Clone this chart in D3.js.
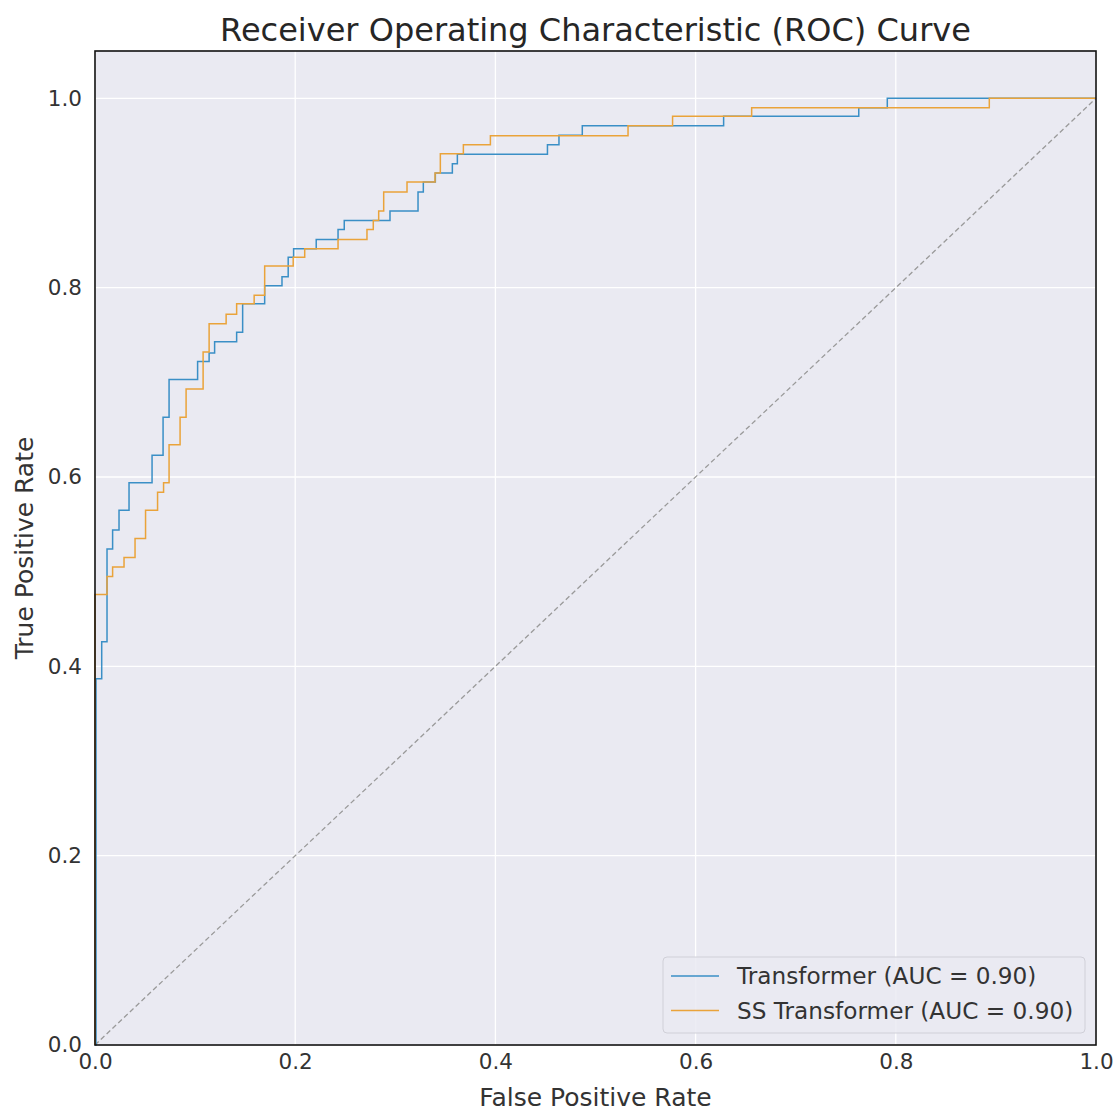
<!DOCTYPE html>
<html lang="en">
<head>
  <meta charset="UTF-8">
  <title>ROC Curve</title>
  <script src="https://d3js.org/d3.v7.min.js"></script>
  <style>
    body { margin: 0; background: #fff; }
    text { font-family: "DejaVu Sans", sans-serif; }
  </style>
</head>
<body>
  <svg id="chart" width="1118" height="1112"></svg>
  <script>
    // ROC points (corners of each step)
    const transformerFpr = [0, 0.001, 0.0067, 0.012, 0.0176, 0.024, 0.034, 0.057, 0.068, 0.074,
      0.1025, 0.114, 0.1195, 0.1415, 0.1475, 0.1695, 0.1868, 0.193, 0.1984, 0.221,
      0.2428, 0.249, 0.2947, 0.3227, 0.328, 0.340, 0.357, 0.362, 0.452, 0.4635,
      0.4868, 0.628, 0.763, 0.7915, 1];
    const transformerTpr = [0, 0.387, 0.426, 0.524, 0.544, 0.565, 0.594, 0.623, 0.663, 0.703,
      0.722, 0.731, 0.743, 0.753, 0.783, 0.802, 0.8115, 0.832, 0.841, 0.851,
      0.8615, 0.871, 0.881, 0.901, 0.9115, 0.921, 0.931, 0.941, 0.951, 0.961,
      0.971, 0.981, 0.990, 1.0, 1.0];

    const ssFpr = [0, 0, 0.012, 0.0176, 0.029, 0.040, 0.0505, 0.0625, 0.0685, 0.074,
      0.085, 0.091, 0.108, 0.114, 0.131, 0.1415, 0.159, 0.1695, 0.198, 0.2095,
      0.2428, 0.2717, 0.278, 0.2834, 0.2884, 0.3117, 0.3397, 0.345, 0.368, 0.395,
      0.5325, 0.577, 0.656, 0.8934, 1];
    const ssTpr = [0, 0.476, 0.495, 0.505, 0.515, 0.535, 0.565, 0.584, 0.594, 0.634,
      0.663, 0.693, 0.732, 0.762, 0.772, 0.783, 0.792, 0.823, 0.832, 0.841,
      0.851, 0.8615, 0.871, 0.881, 0.901, 0.9115, 0.921, 0.9415, 0.951, 0.9606,
      0.971, 0.981, 0.990, 1.0, 1.0];

    const seriesNames = ['Transformer (AUC = 0.90)', 'SS Transformer (AUC = 0.90)'];
    const seriesColors = ['#3a8fc6', '#eaa33a'];
    const tickValues = [0, 0.2, 0.4, 0.6, 0.8, 1.0];

    const svg = d3.select('#chart');
    const margin = { left: 95, right: 22, top: 51, bottom: 67 };
    const W = 1118, H = 1112;
    const x = d3.scaleLinear().domain([0, 1]).range([margin.left, W - margin.right]);
    const y = d3.scaleLinear().domain([0, 1.05]).range([H - margin.bottom, margin.top]);

    // background
    svg.append('rect')
      .attr('x', x(0)).attr('y', y(1.05))
      .attr('width', x(1) - x(0)).attr('height', y(0) - y(1.05))
      .attr('fill', '#eaeaf2');

    // grid
    svg.append('g').selectAll('line').data(tickValues).join('line')
      .attr('x1', d => x(d)).attr('x2', d => x(d))
      .attr('y1', y(0)).attr('y2', y(1.05))
      .attr('stroke', '#fff').attr('stroke-width', 1.3);
    svg.append('g').selectAll('line').data(tickValues).join('line')
      .attr('x1', x(0)).attr('x2', x(1))
      .attr('y1', d => y(d)).attr('y2', d => y(d))
      .attr('stroke', '#fff').attr('stroke-width', 1.3);

    // diagonal
    svg.append('line')
      .attr('x1', x(0)).attr('y1', y(0)).attr('x2', x(1)).attr('y2', y(1))
      .attr('stroke', '#9a9a9a').attr('stroke-width', 1.3)
      .attr('stroke-dasharray', '5,3');

    const line = d3.line()
      .x(d => x(d[0]))
      .y(d => y(d[1]))
      .curve(d3.curveStepAfter);

    const series = [
      d3.zip(transformerFpr, transformerTpr),
      d3.zip(ssFpr, ssTpr)
    ];

    series.forEach((pts, i) => {
      svg.append('path')
        .datum(pts)
        .attr('fill', 'none')
        .attr('stroke', seriesColors[i])
        .attr('stroke-width', 1.5)
        .attr('d', line);
    });

    // frame
    svg.append('rect')
      .attr('x', x(0)).attr('y', y(1.05))
      .attr('width', x(1) - x(0)).attr('height', y(0) - y(1.05))
      .attr('fill', 'none').attr('stroke', '#111').attr('stroke-width', 1.6);

    // axes (labels only)
    const xAxis = d3.axisBottom(x).tickValues(tickValues).tickFormat(d3.format('.1f')).tickSize(0).tickPadding(9);
    const yAxis = d3.axisLeft(y).tickValues(tickValues).tickFormat(d3.format('.1f')).tickSize(0).tickPadding(13);

    const gx = svg.append('g').attr('transform', `translate(0,${y(0)})`).call(xAxis);
    const gy = svg.append('g').attr('transform', `translate(${x(0)},0)`).call(yAxis);
    [gx, gy].forEach(g => {
      g.select('.domain').remove();
      g.selectAll('text').attr('font-size', 21.5).attr('fill', '#333')
        .style('font-family', '"DejaVu Sans", sans-serif');
    });

    // titles
    svg.append('text')
      .attr('x', (x(0) + x(1)) / 2).attr('y', 41)
      .attr('text-anchor', 'middle').attr('font-size', 32).attr('fill', '#262626')
      .text('Receiver Operating Characteristic (ROC) Curve');
    svg.append('text')
      .attr('x', (x(0) + x(1)) / 2).attr('y', 1106)
      .attr('text-anchor', 'middle').attr('font-size', 25).attr('fill', '#333')
      .text('False Positive Rate');
    svg.append('text')
      .attr('transform', `translate(33,${(y(0) + y(1.05)) / 2}) rotate(-90)`)
      .attr('text-anchor', 'middle').attr('font-size', 25).attr('fill', '#333')
      .text('True Positive Rate');

    // legend
    const lg = svg.append('g').attr('transform', 'translate(663,957)');
    lg.append('rect')
      .attr('width', 422).attr('height', 76).attr('rx', 4)
      .attr('fill', '#eaeaf2').attr('fill-opacity', 0.85)
      .attr('stroke', '#d0d0d8').attr('stroke-width', 1);
    seriesNames.forEach((name, i) => {
      const yy = 19 + i * 34.5;
      lg.append('line')
        .attr('x1', 8).attr('x2', 56).attr('y1', yy).attr('y2', yy)
        .attr('stroke', seriesColors[i]).attr('stroke-width', 1.5);
      lg.append('text')
        .attr('x', 74).attr('y', yy + 8)
        .attr('font-size', 23.2).attr('fill', '#333')
        .text(name);
    });
  </script>
</body>
</html>
